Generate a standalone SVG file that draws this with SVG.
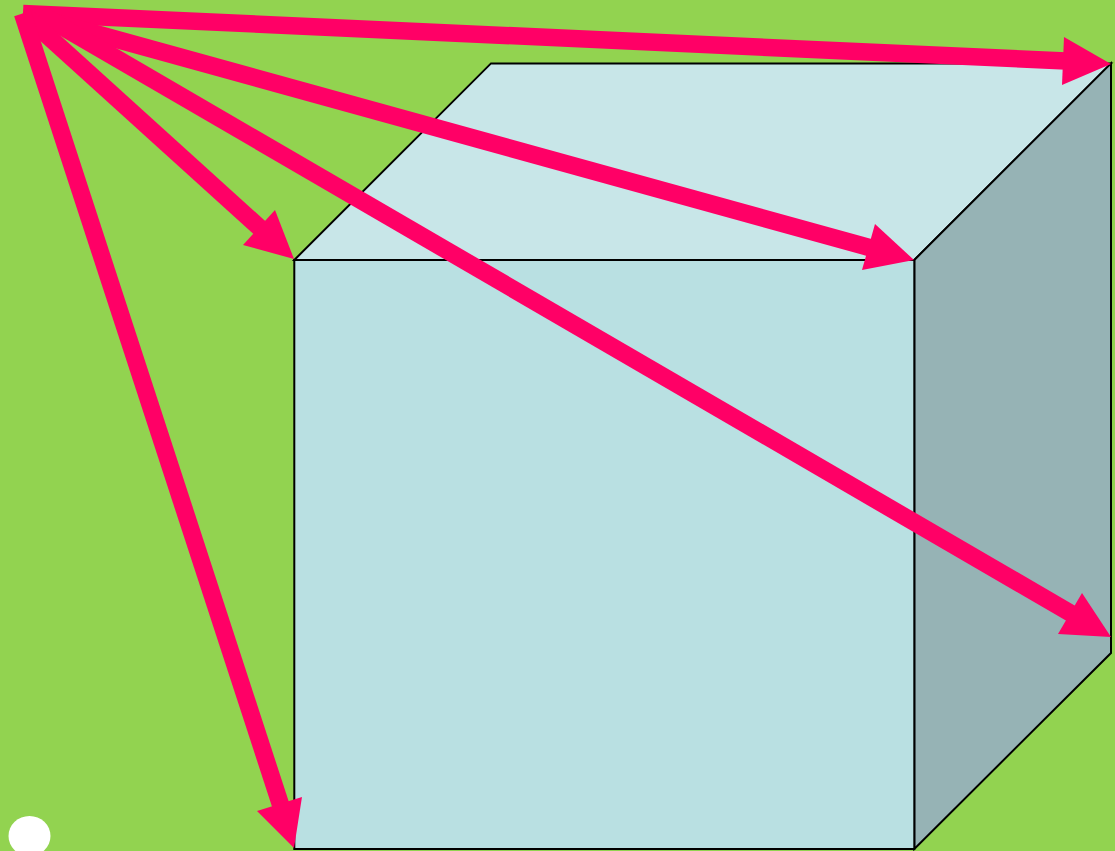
<svg xmlns="http://www.w3.org/2000/svg" width="1115" height="851" viewBox="0 0 1115 851">
<style>
.face{stroke:#000;stroke-width:2;stroke-linejoin:miter}
.shaft{stroke:#ff0066;stroke-width:17.5;fill:none}
.head{fill:#ff0066}
</style>
<rect width="1115" height="851" fill="#92d350"/>
<g id="cube">
<polygon class="face" fill="#c8e6e8" points="294.3,260 491,63.4 1111,63.4 914.3,260"/>
<polygon class="face" fill="#96b3b5" points="914.3,260 1111,63.4 1111,653 914.3,849"/>
<rect class="face" fill="#b9e0e2" x="294.3" y="260" width="620" height="589"/>
</g>
<ellipse id="dot" cx="29.5" cy="836" rx="21" ry="20" fill="#fff"/>
<g id="connectors">
<line class="shaft" x1="23" y1="13.5" x2="1066" y2="61"/>
<polygon class="head" points="1111,64 1064,37 1062,85"/>
<line class="shaft" x1="23" y1="13.5" x2="871" y2="248"/>
<polygon class="head" points="914,260 875,224 862,270"/>
<line class="shaft" x1="40" y1="13.9" x2="1072" y2="614"/>
<polygon class="head" points="1111,637 1082,593 1058,634"/>
<line class="shaft" x1="23" y1="13.5" x2="261" y2="229"/>
<polygon class="head" points="294,259 275,210 243,245"/>
<line class="shaft" x1="22.5" y1="13.5" x2="281" y2="806"/>
<polygon class="head" points="294,848 302,797 257,811"/>
</g>
</svg>
